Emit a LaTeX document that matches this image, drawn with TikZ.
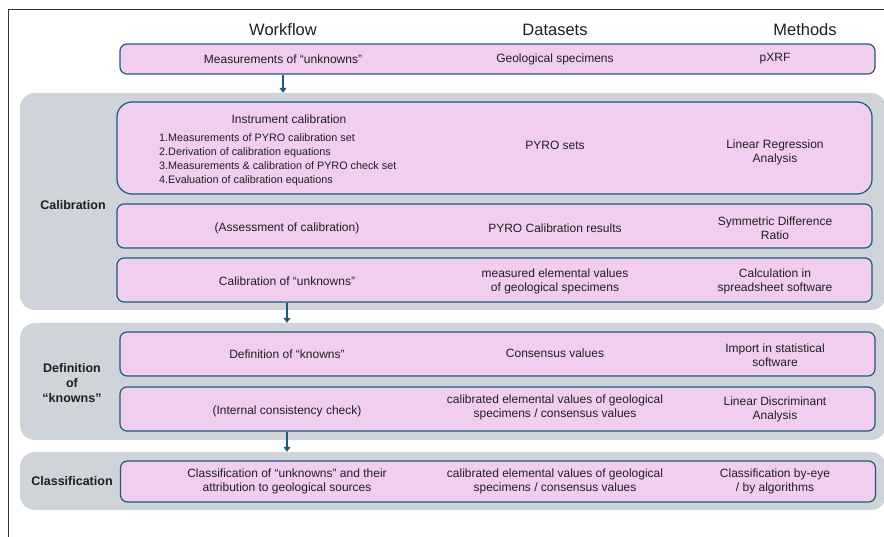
\documentclass[tikz,border=0pt]{standalone}
\usepackage{fontspec}
\setmainfont{Liberation Sans}
\usepackage{xcolor}
\usetikzlibrary{arrows.meta, positioning, calc}
\definecolor{rosa}{RGB}{241,206,238}
\definecolor{bordo}{RGB}{32,88,122}
\definecolor{grigio}{RGB}{206,212,218}
\tikzset{
  scatola/.style = {draw=bordo, fill=rosa, line width=1.2pt, rounded corners=7pt, minimum width=755pt, inner sep=0pt},
  gruppo/.style = {fill=grigio, rounded corners=15pt, inner sep=0pt},
  testo/.style = {font=\fontsize{12}{14}\selectfont, align=center, text=black!88, inner sep=0pt},
  titolo/.style = {font=\fontsize{16.5}{18}\selectfont, text=black!88, inner sep=0pt},
  etichetta/.style = {font=\fontsize{12.5}{15}\selectfont\bfseries, align=center, text=black!88, inner sep=0pt},
  freccia/.style = {draw=bordo, line width=1.2pt, -{Triangle[length=5pt, width=7pt]}}
}

\begin{document}
\begin{tikzpicture}[x=1pt, y=-1pt]
    % Parametri
    \pgfmathsetmacro{\colW}{287}
    \pgfmathsetmacro{\colD}{555}
    \pgfmathsetmacro{\colM}{775}
    \useasboundingbox (0,0) rectangle (884,537);
    % Cornice
    \draw[line width=1pt, black!80] (8,537) -- (8,10) -- (884,10);
    % Intestazioni
    \node[titolo] (hW) at (283,30) {Workflow};
    \node[titolo] (hD) at (\colD,30) {Datasets};
    \node[titolo] (hM) at (805,30) {Methods};
    % Gruppi grigi
    \node[gruppo, minimum width=866pt, minimum height=217pt] (gCal) at (453,201.5) {};
    \node[gruppo, minimum width=866pt, minimum height=117pt] (gDef) at (453,381.5) {};
    \node[gruppo, minimum width=866pt, minimum height=58pt] (gCla) at (453,481) {};
    \node[etichetta] (lCal) at (73,205) {Calibration};
    \node[etichetta] (lDef) at (72,383) {Definition\\of\\“knowns”};
    \node[etichetta] (lCla) at (72,481) {Classification};
    % Misure
    \node[scatola, minimum height=30pt] (misure) at (497.5,59) {};
    \node[testo] (misureW) at (283,59) {Measurements of “unknowns”};
    \node[testo] (misureD) at (\colD,59) {Geological specimens};
    \node[testo] (misureM) at (\colM,59) {pXRF};
    % Calibrazione strumento
    \node[scatola, rounded corners=15pt, minimum height=92pt] (strum) at (494.5,148) {};
    \node[testo] (strumW) at (289,119) {Instrument calibration};
    \node[testo, anchor=north west, align=left, font=\fontsize{10.8}{14.3}\selectfont] (strumL) at (159,133)
      {1.Measurements of PYRO calibration set\\2.Derivation of calibration equations\\3.Measurements \& calibration of PYRO check set\\4.Evaluation of calibration equations};
    \node[testo] (strumD) at (\colD,145) {PYRO sets};
    \node[testo] (strumM) at (\colM,152) {Linear Regression\\Analysis};
    % Valutazione
    \node[scatola, minimum height=44pt] (valut) at (494.5,226) {};
    \node[testo] (valutW) at (\colW,228) {(Assessment of calibration)};
    \node[testo] (valutD) at (\colD,228) {PYRO Calibration results};
    \node[testo] (valutM) at (\colM,228) {Symmetric Difference\\Ratio};
    % Calibrazione incognite
    \node[scatola, minimum height=44pt] (calInc) at (494.5,280) {};
    \node[testo] (calIncW) at (\colW,281) {Calibration of “unknowns”};
    \node[testo] (calIncD) at (\colD,281) {measured elemental values\\of geological specimens};
    \node[testo] (calIncM) at (\colM,281) {Calculation in\\spreadsheet software};
    % Definizione noti
    \node[scatola, minimum height=44pt] (defin) at (497.5,354) {};
    \node[testo] (definW) at (\colW,354) {Definition of “knowns”};
    \node[testo] (definD) at (\colD,353) {Consensus values};
    \node[testo] (definM) at (\colM,355) {Import in statistical\\software};
    % Consistenza
    \node[scatola, minimum height=44pt] (consist) at (497.5,409) {};
    \node[testo] (consistW) at (\colW,411) {(Internal consistency check)};
    \node[testo] (consistD) at (\colD,407) {calibrated elemental values of geological\\specimens / consensus values};
    \node[testo] (consistM) at (\colM,409) {Linear Discriminant\\Analysis};
    % Classificazione
    \node[scatola, minimum height=41pt] (classif) at (498,481.5) {};
    \node[testo] (classifW) at (\colW,481) {Classification of “unknowns” and their\\attribution to geological sources};
    \node[testo] (classifD) at (\colD,481) {calibrated elemental values of geological\\specimens / consensus values};
    \node[testo] (classifM) at (\colM,481) {Classification by-eye\\/ by algorithms};
    % Frecce
    \draw[freccia] (misureW |- misure.south) -- (misureW |- gCal.north);
    \draw[freccia] (calIncW |- calInc.south) -- (calIncW |- gDef.north);
    \draw[freccia] (consistW |- consist.south) -- (consistW |- gCla.north);
\end{tikzpicture}
\end{document}
